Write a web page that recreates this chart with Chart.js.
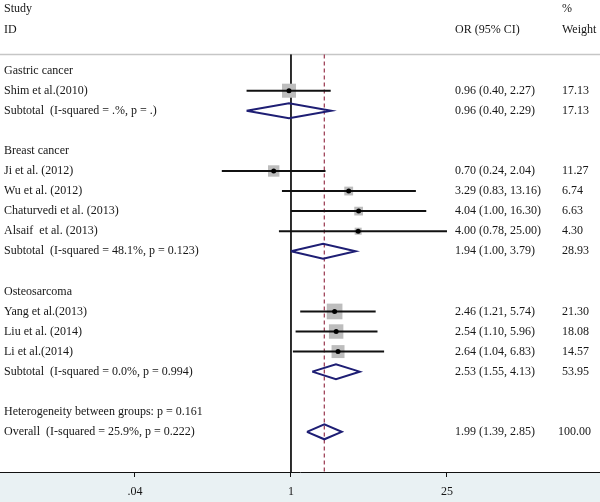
<!DOCTYPE html>
<html>
<head>
<meta charset="utf-8">
<script src="https://cdn.jsdelivr.net/npm/chart.js@4.4.1/dist/chart.umd.min.js"></script>
<style>
  body { margin: 0; background: #fff; }
  canvas { display: block; }
</style>
</head>
<body>
<canvas id="forest" width="600" height="502"></canvas>
<script>
// === Datos ===
const studyLabels = ['Shim et al.(2010)', 'Ji et al. (2012)', 'Wu et al. (2012)', 'Chaturvedi et al. (2013)',
    'Alsaif  et al. (2013)', 'Yang et al.(2013)', 'Liu et al. (2014)', 'Li et al.(2014)'];
const studyRows = [1, 5, 6, 7, 8, 12, 13, 14];
const studyOR = [0.96, 0.70, 3.29, 4.04, 4.00, 2.46, 2.54, 2.64];
const studyLow = [0.40, 0.24, 0.83, 1.00, 0.78, 1.21, 1.10, 1.04];
const studyHigh = [2.27, 2.04, 13.16, 16.30, 25.00, 5.74, 5.96, 6.83];
const studyWeight = [17.13, 11.27, 6.74, 6.63, 4.30, 21.30, 18.08, 14.57];

const groupLabels = ['Gastric cancer', 'Breast cancer', 'Osteosarcoma'];
const groupRows = [0, 4, 11];

const subLabels = ['Subtotal  (I-squared = .%, p = .)', 'Subtotal  (I-squared = 48.1%, p = 0.123)',
    'Subtotal  (I-squared = 0.0%, p = 0.994)', 'Overall  (I-squared = 25.9%, p = 0.222)'];
const subRows = [2, 9, 15, 18];
const subOR = [0.96, 1.94, 2.53, 1.99];
const subLow = [0.40, 1.00, 1.55, 1.39];
const subHigh = [2.29, 3.79, 4.13, 2.85];
const subWeight = [17.13, 28.93, 53.95, 100.00];

const hetLabel = 'Heterogeneity between groups: p = 0.161';
const hetRow = 17;

const tickValues = [0.04, 1, 25];
const tickLabels = ['.04', '1', '25'];

const overallOR = subOR[3];
const FONT = '12px "Liberation Serif", "Times New Roman", serif';
const TEXT = '#161616';
const TOP_ROW = -0.8;
const BOTTOM_ROW = 20;

const fmt = (v) => v.toFixed(2);

// === Datasets ===
const datasets = [];

// linea de no efecto (OR = 1)
datasets.push({
    type: 'line', data: [{ x: 1, y: TOP_ROW }, { x: 1, y: BOTTOM_ROW }],
    borderColor: '#111', borderWidth: 1, pointRadius: 0, order: 5
});
// linea del efecto global
datasets.push({
    type: 'line', data: [{ x: overallOR, y: TOP_ROW }, { x: overallOR, y: BOTTOM_ROW }],
    borderColor: '#a0455a', borderWidth: 1.3, borderDash: [4, 3], pointRadius: 0, order: 5
});

// intervalos de confianza
studyRows.forEach((r, i) => {
    datasets.push({
        type: 'line', data: [{ x: studyLow[i], y: r }, { x: studyHigh[i], y: r }],
        borderColor: '#111', borderWidth: 2, pointRadius: 0, order: 3
    });
});

// cuadrados por peso
datasets.push({
    type: 'scatter',
    data: studyRows.map((r, i) => ({ x: studyOR[i], y: r })),
    pointStyle: 'rect',
    pointRadius: studyWeight.map(w => 2.4 * Math.sqrt(w)),
    backgroundColor: '#bdbdbd', borderWidth: 0, order: 4
});
// puntos centrales
datasets.push({
    type: 'scatter',
    data: studyRows.map((r, i) => ({ x: studyOR[i], y: r })),
    pointStyle: 'circle', pointRadius: 2.5,
    backgroundColor: '#000', borderWidth: 0, order: 1
});

// rombos (subtotales y global)
subRows.forEach((r, i) => {
    const h = 0.37;
    datasets.push({
        type: 'line',
        data: [
            { x: subLow[i], y: r }, { x: subOR[i], y: r - h }, { x: subHigh[i], y: r },
            { x: subOR[i], y: r + h }, { x: subLow[i], y: r }
        ],
        borderColor: '#1e1e74', borderWidth: 2, pointRadius: 0, fill: false,
        tension: 0, borderJoinStyle: 'miter', order: 2
    });
});

// === Textos y fondo ===
const textPlugin = {
    id: 'forestText',
    beforeDraw(chart) {
        const { ctx, chartArea, width, height } = chart;
        ctx.save();
        ctx.fillStyle = '#fff';
        ctx.fillRect(0, 0, width, height);
        ctx.fillStyle = '#e9f1f3';
        ctx.fillRect(0, chartArea.bottom, width, height - chartArea.bottom);
        // linea gris superior
        const yTop = chart.scales.y.getPixelForValue(TOP_ROW);
        ctx.strokeStyle = '#c6c6c6';
        ctx.lineWidth = 1.5;
        ctx.beginPath();
        ctx.moveTo(0, yTop);
        ctx.lineTo(width, yTop);
        ctx.stroke();
        ctx.restore();
    },
    afterDraw(chart) {
        const { ctx } = chart;
        const y = chart.scales.y;
        const colOR = 455, colW = 562, colL = 4;
        ctx.save();
        ctx.font = FONT;
        ctx.fillStyle = TEXT;
        ctx.textBaseline = 'middle';
        ctx.textAlign = 'left';
        const put = (t, x, row) => ctx.fillText(t, x, y.getPixelForValue(row));

        put('Study', colL, -3.08);
        put('ID', colL, -2.04);
        put('OR (95% CI)', colOR, -2.04);
        put('%', colW, -3.08);
        put('Weight', colW, -2.04);

        groupRows.forEach((r, i) => put(groupLabels[i], colL, r));
        studyRows.forEach((r, i) => {
            put(studyLabels[i], colL, r);
            put(`${fmt(studyOR[i])} (${fmt(studyLow[i])}, ${fmt(studyHigh[i])})`, colOR, r);
            put(fmt(studyWeight[i]), colW, r);
        });
        subRows.forEach((r, i) => {
            put(subLabels[i], colL, r);
            put(`${fmt(subOR[i])} (${fmt(subLow[i])}, ${fmt(subHigh[i])})`, colOR, r);
            put(fmt(subWeight[i]), subWeight[i] >= 100 ? colW - 4 : colW, r);
        });
        put(hetLabel, colL, hetRow);
        ctx.restore();
    }
};

new Chart(document.getElementById('forest').getContext('2d'), {
    data: { datasets },
    plugins: [textPlugin],
    options: {
        responsive: false,
        animation: false,
        devicePixelRatio: 1,
        layout: { padding: 0, autoPadding: false },
        plugins: { legend: { display: false }, tooltip: { enabled: false } },
        scales: {
            x: {
                type: 'logarithmic',
                position: 'bottom',
                bounds: 'data',
                min: 0.00247,
                max: 587.5,
                afterBuildTicks: (axis) => { axis.ticks = tickValues.map(v => ({ value: v })); },
                afterFit: (axis) => {
                    axis.height = 30;
                    axis.paddingLeft = 0;
                    axis.paddingRight = 0;
                },
                ticks: {
                    autoSkip: false, maxRotation: 0, padding: 8,
                    color: TEXT,
                    font: { family: '"Liberation Serif", "Times New Roman", serif', size: 12 },
                    callback: (v) => tickLabels[tickValues.indexOf(v)] ?? ''
                },
                grid: { drawOnChartArea: false, drawTicks: true, tickLength: 5, color: '#111' },
                border: { display: true, color: '#111', width: 1 }
            },
            y: {
                type: 'linear',
                display: false,
                reverse: true,
                min: -3.52,
                max: BOTTOM_ROW
            }
        }
    }
});
</script>
</body>
</html>
